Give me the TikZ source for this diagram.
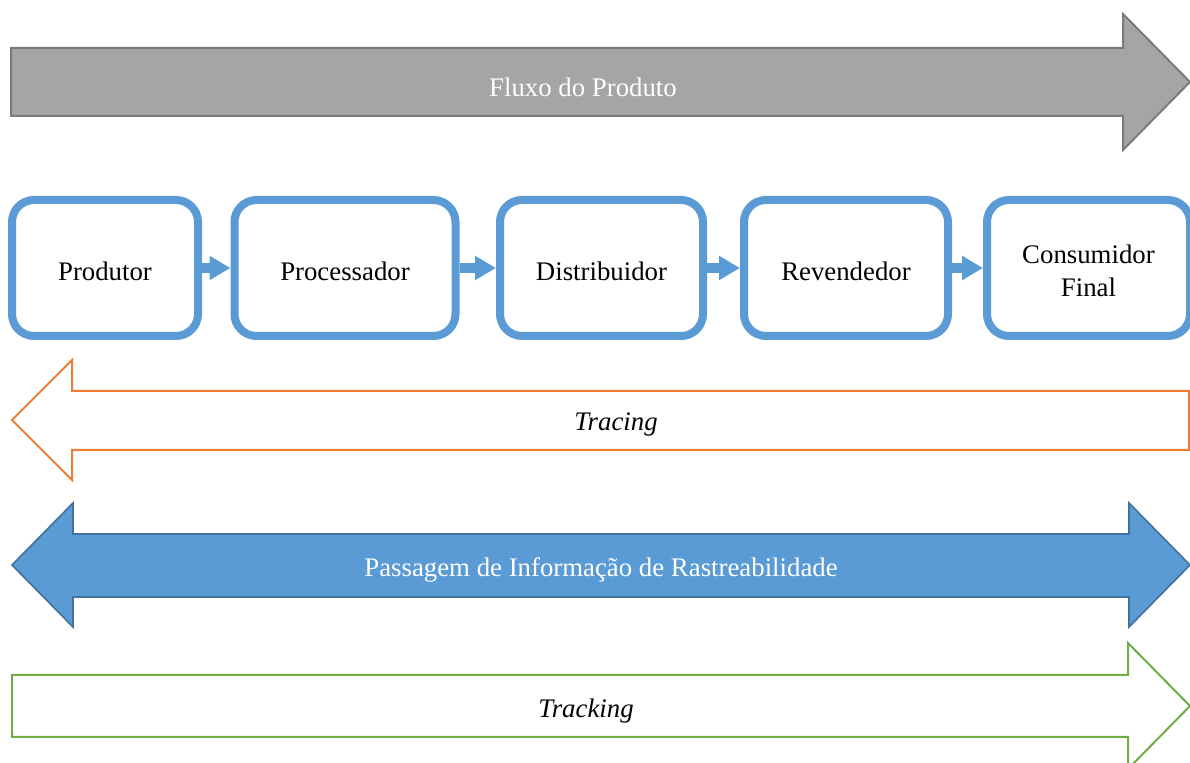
\documentclass[tikz,border=0pt]{standalone}
\usepackage{fontspec}
\setmainfont{Liberation Serif}
\usetikzlibrary{arrows.meta}
\definecolor{cinza}{HTML}{A5A5A5}
\definecolor{cinzaesc}{HTML}{7B7B7B}
\definecolor{azul}{HTML}{5B9BD5}
\definecolor{azulesc}{HTML}{41719C}
\definecolor{laranja}{HTML}{ED7D31}
\definecolor{verde}{HTML}{70AD47}
\newcommand{\apoio}{\rule{0pt}{12.2pt}}
\begin{document}
\begin{tikzpicture}[x=0.5pt,y=-0.5pt,
	etapa/.style={draw=azul,line width=4pt,rounded corners=11pt,fill=white,
		minimum height=68pt,align=center,font=\fontsize{13.4}{16.5}\selectfont},
	liga/.style={azul,line width=5pt,-{Triangle[length=10.5pt,width=11.5pt]}},
	rotulo/.style={font=\fontsize{13.4}{16.5}\selectfont}]
	\useasboundingbox (0,0) rectangle (1190,763);
	%fluxo do produto
	\draw [fill=cinza,draw=cinzaesc,line width=1pt]
		(11,48) -- (1123,48) -- (1123,14) -- (1190,82) -- (1123,150)
		-- (1123,116) -- (11,116) -- cycle;
	\node[rotulo,white] (fluxo) at (583,87) {Fluxo do Produto};
	%etapas da cadeia
	\node[etapa,minimum width=93pt] (prod) at (105,268) {\apoio Produtor};
	\node[etapa,minimum width=110.5pt] (proc) at (345,268) {\apoio Processador};
	\node[etapa,minimum width=101.5pt] (dist) at (601.5,268) {\apoio Distribuidor};
	\node[etapa,minimum width=102pt] (rev) at (846,268) {\apoio Revendedor};
	\node[etapa,minimum width=101.5pt] (cons) at (1088.5,268) {\apoio Consumidor\\Final};
	\draw [liga] (prod.east) -- (proc.west);
	\draw [liga] (proc.east) -- (dist.west);
	\draw [liga] (dist.east) -- (rev.west);
	\draw [liga] (rev.east) -- (cons.west);
	%tracing
	\draw [fill=white,draw=laranja,line width=1pt]
		(12,420) -- (72,360) -- (72,391) -- (1189,391) -- (1189,450)
		-- (72,450) -- (72,480) -- cycle;
	\node[rotulo] (tracing) at (616,424) {\textit{Tracing}};
	%informacao de rastreabilidade
	\draw [fill=azul,draw=azulesc,line width=0.8pt]
		(12,565) -- (73,503) -- (73,534) -- (1129,534) -- (1129,503)
		-- (1190,565) -- (1129,627) -- (1129,597) -- (73,597) -- (73,627) -- cycle;
	\node[rotulo,white] (info) at (601,570) {Passagem de Informação de Rastreabilidade};
	%tracking
	\draw [fill=white,draw=verde,line width=1pt]
		(12,675) -- (1128,675) -- (1128,643) -- (1190,706) -- (1128,769)
		-- (1128,737) -- (12,737) -- cycle;
	\node[rotulo] (tracking) at (586,711) {\textit{Tracking}};
\end{tikzpicture}
\end{document}
